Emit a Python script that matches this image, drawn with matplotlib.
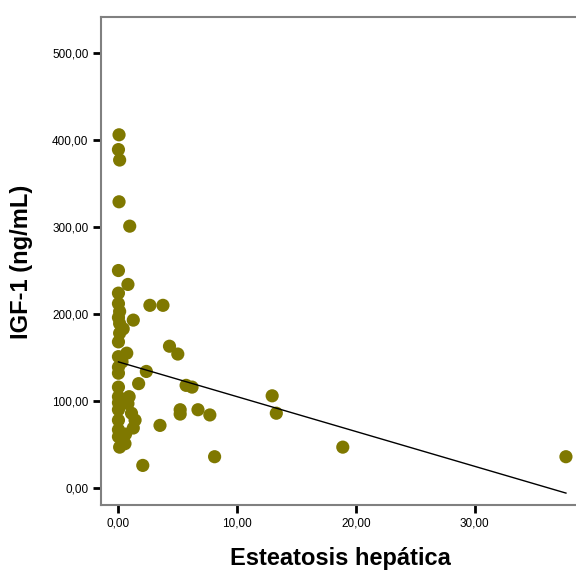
import matplotlib
matplotlib.use("Agg")
import matplotlib.pyplot as plt
import numpy as np

# Data
esteatosis = [0.05, 0.0, 0.1, 0.05, 0.95, 0.0, 0.8, 0.0, 0.0, 0.1,
              1.25, 0.1, 0.1, 0.0, 0.7, 0.0, 0.0, 0.0, 1.7, 0.0,
              0.0, 0.0, 0.8, 0.0, 1.1, 0.0, 1.4, 0.0, 1.25, 0.0,
              0.55, 0.1, 2.65, 3.75, 4.3, 5.0, 2.35, 5.7, 6.2, 12.95,
              13.3, 3.5, 5.2, 5.2, 6.7, 7.7, 8.1, 18.9, 37.7, 2.05,
              0.4, 0.6, 0.3, 0.9, 0.0, 0.4]
igf1 = [406, 389, 377, 329, 301, 250, 234, 224, 212, 203,
        193, 189, 178, 168, 155, 151, 139, 132, 120, 116,
        105, 98, 97, 90, 86, 78, 78, 67, 69, 59,
        51, 47, 210, 210, 163, 154, 134, 118, 116, 106,
        86, 72, 90, 85, 90, 84, 36, 47, 36, 26,
        100, 62, 145, 105, 196, 183]

fit_intercept = 145.0
fit_slope = -4.0
fit_range = [0.0, 37.7]

x_ticks = [0, 10, 20, 30]
x_tick_labels = ["0,00", "10,00", "20,00", "30,00"]
y_ticks = [0, 100, 200, 300, 400, 500]
y_tick_labels = ["0,00", "100,00", "200,00", "300,00", "400,00", "500,00"]

plt.rcParams['font.family'] = ['Liberation Sans', 'DejaVu Sans']

fig = plt.figure(figsize=(5.76, 5.74), dpi=100)
ax = fig.add_axes([101/576, 1-505/574, 478/576, 488/574])

ax.scatter(esteatosis, igf1, s=90, color="#7f7800", edgecolors="none", zorder=2)
fx = np.array(fit_range)
ax.plot(fx, fit_intercept + fit_slope * fx, color="black", linewidth=1.0, zorder=3)

ax.set_xlim(-1.47, 38.8)
ax.set_ylim(-19.5, 541.4)

ax.set_xticks(x_ticks)
ax.set_xticklabels(x_tick_labels)
ax.set_yticks(y_ticks)
ax.set_yticklabels(y_tick_labels)

for s in ["left", "bottom", "top"]:
    ax.spines[s].set_color("#808080")
    ax.spines[s].set_linewidth(1.5)
ax.spines["right"].set_visible(False)

ax.tick_params(axis="both", direction="out", length=6, width=2, color="black",
               labelsize=8.5, pad=3)

ax.set_xlabel("Esteatosis hepática", fontsize=17, fontweight="bold")
ax.set_ylabel("IGF-1 (ng/mL)", fontsize=17, fontweight="bold")
ax.xaxis.set_label_coords(0.5, -0.087)
ax.yaxis.set_label_coords(-0.142, 0.498)

fig.savefig("out.png", dpi=100)
